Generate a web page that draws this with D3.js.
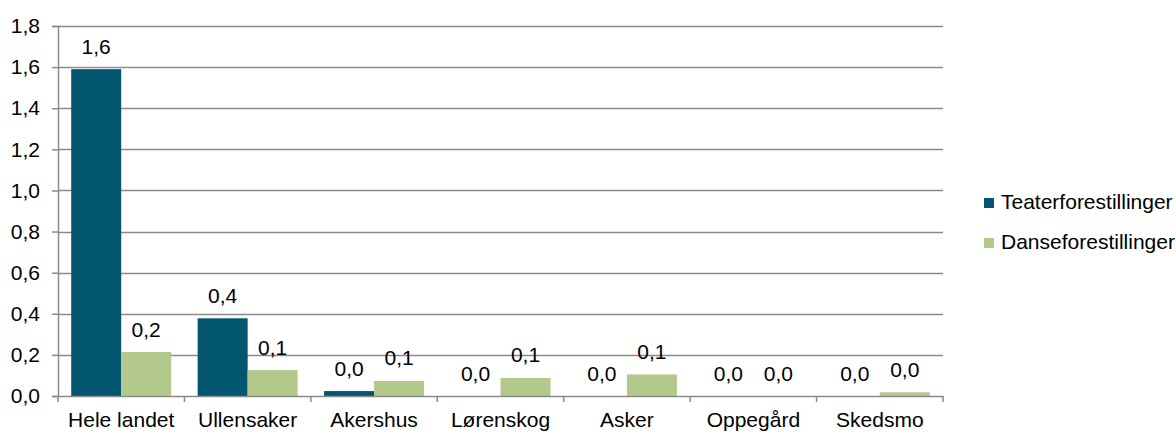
<!DOCTYPE html>
<html>
<head>
<meta charset="utf-8">
<script src="https://cdn.jsdelivr.net/npm/d3@7"></script>
<style>
  html, body { margin: 0; padding: 0; background: #fff; }
  svg { display: block; font-family: "Liberation Sans", Arial, sans-serif; }
</style>
</head>
<body>
<svg id="chart" width="1176" height="432"></svg>
<script>
const categories = ["Hele landet", "Ullensaker", "Akershus", "Lørenskog", "Asker", "Oppegård", "Skedsmo"];
const seriesNames = ["Teaterforestillinger", "Danseforestillinger"];
const teater = [1.59, 0.378, 0.024, 0, 0, 0, 0];
const danse = [0.214, 0.126, 0.073, 0.088, 0.105, 0, 0.018];
const yTicks = [0, 0.2, 0.4, 0.6, 0.8, 1.0, 1.2, 1.4, 1.6, 1.8];
const colors = ["#02566F", "#B3C98C"];

(function () {
const seriesValues = [teater, danse];
const fmt = v => d3.format(".1f")(v).replace(".", ",");

const svg = d3.select("#chart");
const mLeft = 58, mRight = 943, mTop = 26, mBottom = 396;
const fontSize = 21;
const gridColor = "#8a8a8a";

const x0 = d3.scaleBand().domain(categories).range([mLeft, mRight]).paddingInner(0).paddingOuter(0);
const x1 = d3.scaleBand().domain(seriesNames).range([0, x0.bandwidth()]).paddingInner(0).paddingOuter(0.264);
const y = d3.scaleLinear().domain([0, 1.8]).range([mBottom, mTop]);

// gridlines
svg.append("g").selectAll("line").data(yTicks.filter(t => t > 0)).join("line")
  .attr("x1", mLeft).attr("x2", mRight)
  .attr("y1", d => Math.round(y(d)) + 0.5).attr("y2", d => Math.round(y(d)) + 0.5)
  .attr("stroke", gridColor).attr("stroke-width", 1.5);

// bars
const groups = svg.append("g").selectAll("g").data(categories).join("g")
  .attr("transform", d => `translate(${x0(d)},0)`);

seriesNames.forEach((s, si) => {
  groups.append("rect")
    .attr("x", x1(s))
    .attr("width", x1.bandwidth())
    .attr("y", (d, i) => y(seriesValues[si][i]))
    .attr("height", (d, i) => mBottom - y(seriesValues[si][i]))
    .attr("fill", colors[si]);
  groups.append("text")
    .attr("x", x1(s) + x1.bandwidth() / 2)
    .attr("y", (d, i) => y(seriesValues[si][i]) - 15.5)
    .attr("text-anchor", "middle")
    .attr("font-size", fontSize)
    .attr("fill", "#000")
    .text((d, i) => fmt(seriesValues[si][i]));
});

// y axis
const yAxis = d3.axisLeft(y).tickValues(yTicks).tickSize(6).tickPadding(12).tickFormat(fmt);
const gy = svg.append("g").attr("transform", `translate(${mLeft},0)`).call(yAxis);
gy.select(".domain").attr("stroke", gridColor).attr("stroke-width", 1.5);
gy.selectAll(".tick line").attr("stroke", gridColor).attr("stroke-width", 1.5);
gy.selectAll(".tick text").attr("font-size", fontSize).attr("fill", "#000")
  .attr("font-family", "Liberation Sans, Arial, sans-serif");

// x axis
const xAxis = d3.axisBottom(x0).tickSize(0).tickPadding(16);
const gx = svg.append("g").attr("transform", `translate(0,${mBottom})`).call(xAxis);
gx.select(".domain").attr("stroke", gridColor).attr("stroke-width", 1.5);
gx.selectAll(".tick text").attr("font-size", fontSize).attr("fill", "#000")
  .attr("font-family", "Liberation Sans, Arial, sans-serif");
// category boundary ticks
const bounds = categories.map(c => x0(c)).concat([mRight]);
svg.append("g").selectAll("line").data(bounds).join("line")
  .attr("x1", d => d).attr("x2", d => d)
  .attr("y1", mBottom).attr("y2", mBottom + 6)
  .attr("stroke", gridColor).attr("stroke-width", 1.5);

// legend
const legend = svg.append("g").attr("transform", "translate(984,198)");
seriesNames.forEach((s, i) => {
  const g = legend.append("g").attr("transform", `translate(0,${i * 40})`);
  g.append("rect").attr("width", 10).attr("height", 10).attr("fill", colors[i]);
  g.append("text").attr("x", 17).attr("y", 11).attr("font-size", fontSize).attr("fill", "#000").text(s);
});
})();
</script>
</body>
</html>
